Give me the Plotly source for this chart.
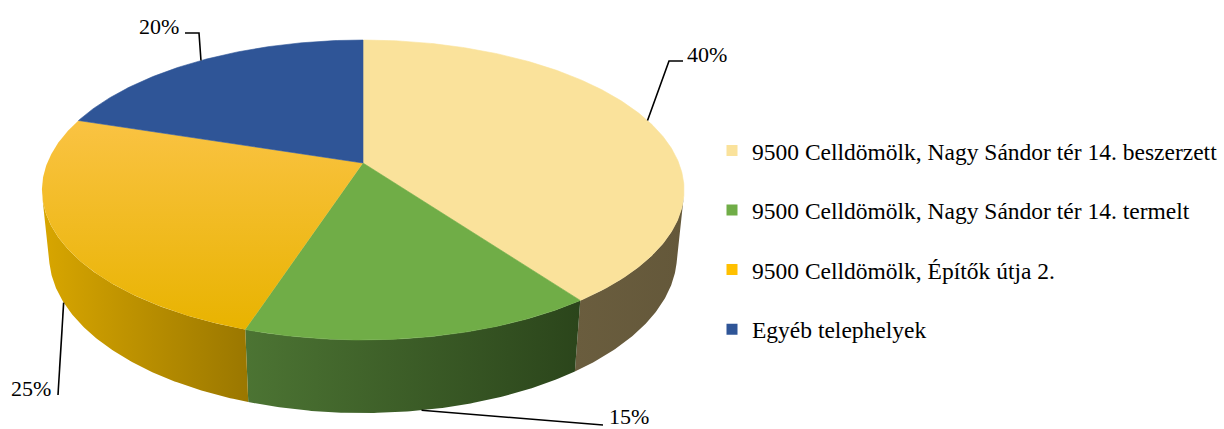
import numpy as np
import plotly.graph_objects as go

# ---------------- data ----------------
labels = ["9500 Celldömölk, Nagy Sándor tér 14. beszerzett",
          "9500 Celldömölk, Nagy Sándor tér 14. termelt",
          "9500 Celldömölk, Építők útja 2.",
          "Egyéb telephelyek"]
values = [40, 15, 25, 20]
pct_labels = ["40%", "15%", "25%", "20%"]

# ---------------- style ----------------
top_colors = ["#FAE29B", "#70AD47", "#F8BF1E", "#2F5597"]
top_grad = [None, None, ("#FAC343", "#E8B300"), None]
wall_grad = [("#6A5D3E", "#64583A"), ("#4C7433", "#2B451B"),
             ("#D8A600", "#9A7700"), ("#22406F", "#1A3259")]
legend_colors = ["#FAE29B", "#70AD47", "#FFC000", "#2F5597"]
FONT = "Liberation Serif"

# perspective projection parameters (pixel space)
CX, CY = 363.0, 163.0
F, S, CC, K, Q, H = 315.8, 0.4595, 0.888, 0.18, 0.0932, 0.233
VIS0 = np.degrees(np.arccos(-1.0 / ((CC / K) * CC)))
VIS1 = 360.0 - VIS0


def proj(theta_deg, z=0.0):
    t = np.radians(theta_deg)
    x, y = np.sin(t), np.cos(t)
    den = 1 + K * y - Q * z
    sx = CX + F * x / den
    sy = CY - F * (y * S + z * CC) / den
    return sx, sy


total = float(sum(values))
bounds = np.concatenate([[0], np.cumsum(values)]) / total * 360.0

fig = go.Figure()

# walls (outer side of the cylinder), only visible front part
for i in range(len(values)):
    a0, a1 = max(bounds[i], VIS0), min(bounds[i + 1], VIS1)
    if a1 <= a0:
        continue
    th = np.linspace(a0, a1, max(int((a1 - a0) * 2), 4))
    tx, ty = proj(th, 0.0)
    bx, by = proj(th[::-1], -H)
    xs = np.concatenate([tx, bx, tx[:1]])
    ys = np.concatenate([ty, by, ty[:1]])
    c0, c1 = wall_grad[i]
    fig.add_trace(go.Scatter(
        x=xs, y=ys, mode="lines", fill="toself", line=dict(width=0),
        fillgradient=dict(type="horizontal", colorscale=[[0, c0], [1, c1]],
                          start=float(xs.min()), stop=float(xs.max())),
        hoverinfo="skip", showlegend=False))

# top faces
for i in range(len(values)):
    a0, a1 = bounds[i], bounds[i + 1]
    th = np.linspace(a0, a1, max(int((a1 - a0) * 2), 4))
    ax, ay = proj(th, 0.0)
    xs = np.concatenate([[CX], ax, [CX]])
    ys = np.concatenate([[CY], ay, [CY]])
    kw = {}
    if top_grad[i]:
        kw["fillgradient"] = dict(type="vertical",
                                  colorscale=[[0, top_grad[i][0]], [1, top_grad[i][1]]],
                                  start=float(ys.min()), stop=float(ys.max()))
        kw["line"] = dict(width=0)
    else:
        kw["fillcolor"] = top_colors[i]
        kw["line"] = dict(width=0.6, color=top_colors[i])
    fig.add_trace(go.Scatter(x=xs, y=ys, mode="lines", fill="toself",
                             hoverinfo="skip", showlegend=False, **kw))

# data labels with leader lines
mids = (bounds[:-1] + bounds[1:]) / 2
label_layout = [
    # (elbow points after anchor, text x, text y, anchor)
    ([(669, 61), (683, 61)], 685, 54, "left"),
    ([(603, 425)], 607, 416, "left"),
    ([(58, 395)], 53, 388, "right"),
    ([(199, 33), (185, 33)], 181, 26, "right"),
]
for i, m in enumerate(mids):
    front = np.cos(np.radians(m)) < -0.2
    px, py = proj(m, -H if front else 0.0)
    pts, tx_, ty_, anc = label_layout[i]
    lx = [px] + [p[0] for p in pts]
    ly = [py] + [p[1] for p in pts]
    fig.add_trace(go.Scatter(x=lx, y=ly, mode="lines",
                             line=dict(color="black", width=1.6),
                             hoverinfo="skip", showlegend=False))
    fig.add_annotation(x=tx_, y=ty_, text=pct_labels[i], showarrow=False,
                       xanchor=anc, yanchor="middle",
                       font=dict(family=FONT, size=22, color="black"))

# legend entries
for i, lab in enumerate(labels):
    fig.add_trace(go.Scatter(x=[None], y=[None], mode="markers", name=lab,
                             legendgroup=f"g{i}",
                             marker=dict(symbol="square", size=11,
                                         color=legend_colors[i])))

fig.update_layout(
    width=1224, height=429,
    margin=dict(l=0, r=0, t=0, b=0, autoexpand=False),
    paper_bgcolor="white", plot_bgcolor="white",
    xaxis=dict(range=[0, 1224], visible=False, fixedrange=True),
    yaxis=dict(range=[429, 0], visible=False, fixedrange=True),
    showlegend=True,
    legend=dict(x=0.5817, y=0.70, xanchor="left", yanchor="top",
                font=dict(family=FONT, size=23.5, color="black"),
                tracegroupgap=26, itemwidth=30, bgcolor="rgba(0,0,0,0)"),
)

fig.write_html("out.html", config={"displayModeBar": False},
               post_script="document.body.style.margin='0';document.body.style.overflow='hidden';")
